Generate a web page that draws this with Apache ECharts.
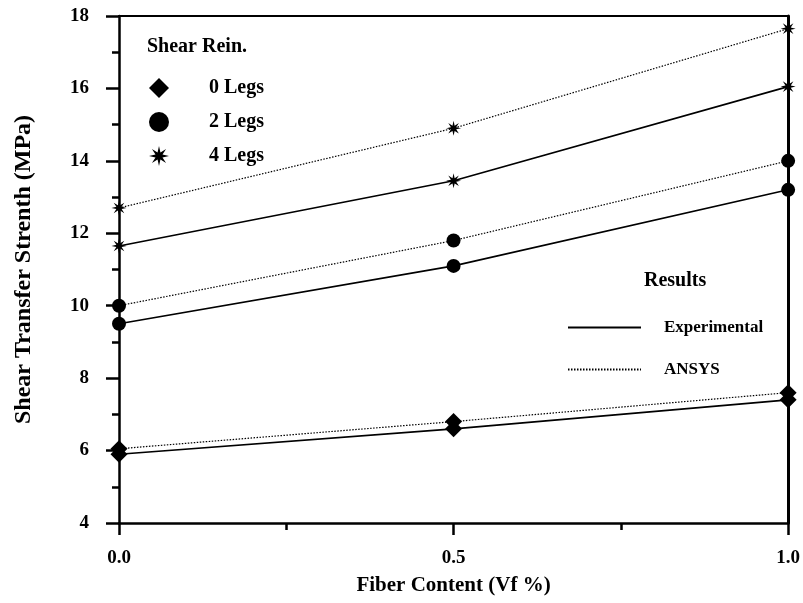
<!DOCTYPE html>
<html>
<head>
<meta charset="utf-8">
<script src="https://cdn.jsdelivr.net/npm/echarts@6/dist/echarts.min.js"></script>
<style>html,body{margin:0;padding:0;background:#fff}#c{width:803px;height:603px}</style>
</head>
<body>
<div id="c"></div>
<script>
// ---- data ----
var fiberContent = [0.0, 0.5, 1.0];
var exp0Legs = [5.9, 6.6, 7.4];
var ansys0Legs = [6.05, 6.8, 7.6];
var exp2Legs = [9.5, 11.1, 13.2];
var ansys2Legs = [10.0, 11.8, 14.0];
var exp4Legs = [11.65, 13.45, 16.05];
var ansys4Legs = [12.7, 14.9, 17.65];
var reinNames = ['0 Legs', '2 Legs', '4 Legs'];
var resultNames = ['Experimental', 'ANSYS'];
var xTicks = [0, 0.5, 1.0];
var yTicks = [4, 6, 8, 10, 12, 14, 16, 18];

var FONT = '"Liberation Serif", "Times New Roman", serif';
var starPath = (function () {
  var pts = [];
  for (var i = 0; i < 16; i++) {
    var a = Math.PI * i / 8 - Math.PI / 2;
    var r = (i % 2 === 0) ? 50 : 19;
    pts.push((50 + r * Math.cos(a)).toFixed(2) + ',' + (50 + r * Math.sin(a)).toFixed(2));
  }
  return 'path://M' + pts.join('L') + 'Z';
})();

function pairs(ys) { return fiberContent.map(function (x, i) { return [x, ys[i]]; }); }

var solid = { color: '#000', width: 1.6, type: 'solid' };
var dotted = { color: '#000', width: 1.2, type: [1.5, 1.5] };

function mk(name, ys, symbol, size, ls) {
  return {
    name: name, type: 'line', data: pairs(ys), symbol: symbol, symbolSize: size,
    lineStyle: ls, itemStyle: { color: '#000' }, animation: false, z: 3
  };
}

var series = [
  mk('0 Legs', exp0Legs, 'diamond', 17, solid),
  mk('0 Legs', ansys0Legs, 'diamond', 17, dotted),
  mk('2 Legs', exp2Legs, 'circle', 14, solid),
  mk('2 Legs', ansys2Legs, 'circle', 14, dotted),
  mk('4 Legs', exp4Legs, starPath, 15, solid),
  mk('4 Legs', ansys4Legs, starPath, 15, dotted),
  { name: 'Experimental', type: 'line', data: [], symbol: 'none', lineStyle: solid, itemStyle: { color: '#000' } },
  { name: 'ANSYS', type: 'line', data: [], symbol: 'none', lineStyle: dotted, itemStyle: { color: '#000' } }
];

var axisLabelStyle = { fontFamily: FONT, fontWeight: 'bold', fontSize: 19, color: '#000' };

var option = {
  backgroundColor: '#fff',
  animation: false,
  grid: { left: 119, top: 16, right: 14, bottom: 80, containLabel: false },
  title: {
    text: 'Shear Rein.', left: 142, top: 32,
    textStyle: { fontFamily: FONT, fontWeight: 'bold', fontSize: 20, color: '#000' }
  },
  graphic: [{
    type: 'text', left: 644, top: 271,
    style: { text: 'Results', font: 'bold 20px ' + FONT, fill: '#000' }
  }],
  legend: [{
    data: reinNames.map(function (n, i) {
      return { name: n, icon: ['diamond', 'circle', starPath][i] };
    }),
    orient: 'vertical', left: 144, top: 73, itemWidth: 20, itemHeight: 20, itemGap: 14,
    selectedMode: false,
    itemStyle: { color: '#000' },
    textStyle: { fontFamily: FONT, fontWeight: 'bold', fontSize: 20, color: '#000', padding: [0, 0, 0, 35] }
  }, {
    data: resultNames.map(function (n) { return { name: n, itemStyle: { opacity: 0 } }; }),
    orient: 'vertical', left: 562, top: 314, itemWidth: 73, itemHeight: 20, itemGap: 25,
    selectedMode: false,
    textStyle: { fontFamily: FONT, fontWeight: 'bold', fontSize: 17, color: '#000', padding: [0, 0, 0, 18] }
  }],
  xAxis: [{
    type: 'value', min: 0, max: 1, interval: 0.5,
    name: 'Fiber Content (Vf %)', nameLocation: 'middle', nameGap: 52,
    nameTextStyle: { fontFamily: FONT, fontWeight: 'bold', fontSize: 21, color: '#000' },
    axisLine: { show: true, onZero: false, lineStyle: { color: '#000', width: 2.5 } },
    axisTick: { show: true, length: 12, lineStyle: { color: '#000', width: 2.5 } },
    minorTick: { show: true, splitNumber: 2, length: 7, lineStyle: { color: '#000', width: 2.5 } },
    axisLabel: Object.assign({ margin: 26, formatter: function (v) { return xTicks.indexOf(v) >= 0 ? v.toFixed(1) : ''; } }, axisLabelStyle),
    splitLine: { show: false }
  }, {
    type: 'value', min: 0, max: 1, position: 'top',
    axisLine: { show: true, onZero: false, lineStyle: { color: '#000', width: 2 } },
    axisTick: { show: false }, axisLabel: { show: false }, splitLine: { show: false }
  }],
  yAxis: [{
    type: 'value', min: 4, max: 18, interval: 2,
    name: 'Shear Transfer Strenth (MPa)', nameLocation: 'middle', nameGap: 83,
    nameTextStyle: { fontFamily: FONT, fontWeight: 'bold', fontSize: 24, color: '#000' },
    axisLine: { show: true, onZero: false, lineStyle: { color: '#000', width: 2.5 } },
    axisTick: { show: true, length: 13, lineStyle: { color: '#000', width: 2.5 } },
    minorTick: { show: true, splitNumber: 2, length: 7, lineStyle: { color: '#000', width: 2.5 } },
    axisLabel: Object.assign({ margin: 30, formatter: function (v) { return yTicks.indexOf(v) >= 0 ? String(v) : ''; } }, axisLabelStyle),
    splitLine: { show: false }
  }, {
    type: 'value', min: 4, max: 18, position: 'right',
    axisLine: { show: true, onZero: false, lineStyle: { color: '#000', width: 3 } },
    axisTick: { show: false }, axisLabel: { show: false }, splitLine: { show: false }
  }],
  series: series
};

var chart = echarts.init(document.getElementById('c'), null, { renderer: 'canvas' });
chart.setOption(option);
</script>
</body>
</html>
